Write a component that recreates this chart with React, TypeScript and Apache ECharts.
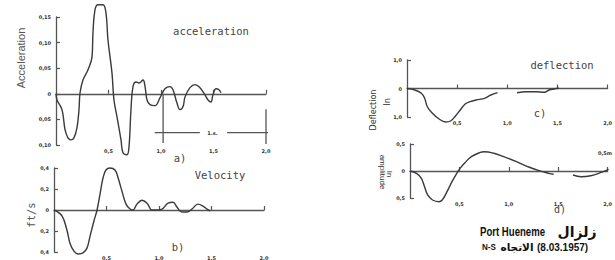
import React, { useEffect, useRef } from "react";
import * as echarts from "echarts";

// Panel a) acceleration (g) vs time (s)
const accTime = [0, 0.01, 0.057, 0.086, 0.114, 0.143, 0.171, 0.2, 0.219, 0.229, 0.257, 0.305, 0.343, 0.352, 0.371, 0.4, 0.448, 0.476, 0.495, 0.533, 0.552, 0.581, 0.619, 0.638, 0.676, 0.695, 0.714, 0.733, 0.762, 0.79, 0.829, 0.848, 0.867, 0.895, 0.943, 0.99, 1.038, 1.086, 1.114, 1.152, 1.181, 1.21, 1.229, 1.276, 1.324, 1.371, 1.419, 1.448, 1.476, 1.495, 1.524, 1.552, 1.571];
const accValue = [0, -0.012, -0.031, -0.07, -0.086, -0.09, -0.086, -0.066, -0.031, 0.002, 0.027, 0.047, 0.072, 0.119, 0.164, 0.174, 0.174, 0.158, 0.105, 0.041, -0.012, -0.045, -0.09, -0.115, -0.119, -0.104, -0.031, 0.014, 0.023, 0.021, 0.027, 0.014, -0.012, -0.021, -0.023, -0.008, 0.01, 0.014, 0.008, -0.018, -0.031, -0.025, -0.006, 0.012, 0.018, 0.012, -0.002, -0.012, -0.016, -0.002, 0.01, 0.008, 0.002];

// Scale bar of panel a) (1 second between the two vertical bars)
const scaleBarTime = [1.02, 1.02, 1.5, 2.0, 2.0, 1.5, 0.94, 1.37, 1.5, 1.63, 2.09];
const scaleBarValue: (number | null)[] = [0, -0.096, null, -0.03, -0.098, null, -0.076, -0.076, null, -0.076, -0.076];
const scaleBarLabel = "1.s.";
const scaleBarLabelAt = [1.49, -0.076];

// Panel b) velocity (ft/s)
const velTime = [0, 0.076, 0.124, 0.152, 0.19, 0.229, 0.276, 0.314, 0.343, 0.381, 0.41, 0.438, 0.467, 0.495, 0.533, 0.581, 0.61, 0.648, 0.686, 0.724, 0.752, 0.79, 0.838, 0.886, 0.933, 0.98, 1.029, 1.086, 1.133, 1.171, 1.2, 1.229, 1.267, 1.314, 1.371, 1.419, 1.457, 1.486];
const velValue = [0, -0.056, -0.195, -0.316, -0.391, -0.419, -0.409, -0.363, -0.251, -0.102, 0, 0.149, 0.307, 0.381, 0.4, 0.381, 0.307, 0.177, 0.056, 0.009, 0, 0.056, 0.093, 0.065, 0, 0, 0.009, 0.065, 0.074, 0.028, -0.009, -0.019, -0.019, 0.009, 0.056, 0.037, 0.009, -0.009];

// Panel c) deflection (in)
const defTime = [0, 0.078, 0.143, 0.175, 0.204, 0.252, 0.32, 0.385, 0.434, 0.483, 0.531, 0.58, 0.628, 0.689, 0.774, 0.835, 0.903, 1.0, 1.097, 1.194, 1.291, 1.369, 1.417, 1.466, 1.515];
const defValue: (number | null)[] = [0, -0.053, -0.168, -0.333, -0.649, -0.86, -1.07, -1.175, -1.14, -0.965, -0.754, -0.544, -0.463, -0.404, -0.344, -0.228, -0.147, null, -0.147, -0.112, -0.112, -0.133, -0.053, -0.018, 0.007];

// Panel d) amplitude (in)
const ampTime = [0, 0.066, 0.115, 0.147, 0.179, 0.228, 0.294, 0.326, 0.375, 0.425, 0.474, 0.507, 0.556, 0.621, 0.703, 0.752, 0.85, 0.948, 1.078, 1.209, 1.307, 1.405, 1.454, 1.55, 1.65, 1.732, 1.83, 1.928, 2.01];
const ampValue: (number | null)[] = [0, -0.043, -0.135, -0.291, -0.444, -0.537, -0.569, -0.537, -0.383, -0.198, -0.043, 0.05, 0.154, 0.265, 0.339, 0.357, 0.328, 0.265, 0.172, 0.069, 0.006, -0.043, -0.061, null, -0.074, -0.106, -0.087, -0.031, 0.031];

const xTicks = { min: 0, max: 2, interval: 0.5 };

const LINE = "#3a3a3a";
const AXIS = "#555";
const TXT = "#333";

function pairs(t: number[], v: (number | null)[]) {
  return t.map((x, i) => (v[i] === null ? [x, "-"] : [x, v[i]]));
}

function fmt(digits: number) {
  return (v: number) => {
    if (Math.abs(v) < 1e-9) return "0";
    return Math.abs(v).toFixed(digits).replace(".", ",");
  };
}

const tickLabel = { fontSize: 5, fontWeight: "bold" as const, color: TXT, fontFamily: "DejaVu Sans" };

function xAxis(gridIndex: number) {
  return {
    type: "value",
    gridIndex,
    ...xTicks,
    axisLine: { onZero: true, lineStyle: { color: AXIS, width: 1.3 } },
    axisTick: { show: true, inside: true, length: 4, lineStyle: { color: AXIS, width: 1.2 } },
    axisLabel: {
      ...tickLabel,
      margin: 3,
      showMinLabel: false,
      formatter: (v: number) => v.toFixed(1).replace(".", ","),
    },
    splitLine: { show: false },
  };
}

function yAxis(gridIndex: number, min: number, max: number, interval: number, digits: number) {
  return {
    type: "value",
    gridIndex,
    min,
    max,
    interval,
    axisLine: { show: true, onZero: false, lineStyle: { color: AXIS, width: 1.3 } },
    axisTick: { show: true, inside: true, length: 4, lineStyle: { color: AXIS, width: 1.2 } },
    axisLabel: { ...tickLabel, margin: 5, formatter: fmt(digits) },
    splitLine: { show: false },
  };
}

function series(i: number, data: any[], extra: any = {}) {
  return {
    type: "line",
    xAxisIndex: i,
    yAxisIndex: i,
    data,
    smooth: 0.4,
    showSymbol: false,
    symbol: "none",
    clip: false,
    connectNulls: false,
    lineStyle: { color: LINE, width: 1.4 },
    silent: true,
    ...extra,
  };
}

const mono = "10.5px 'DejaVu Sans Mono'";

function txt(text: string, x: number, y: number, font: string, extra: any = {}) {
  const { align, fill, ...rest } = extra;
  return {
    type: "text",
    x,
    y,
    silent: true,
    ...rest,
    style: {
      text,
      font,
      fill: fill || TXT,
      textAlign: align || "center",
      textVerticalAlign: "middle",
      align: align || "center",
      verticalAlign: "middle",
    },
  };
}

export default function App() {
  const ref = useRef<HTMLDivElement>(null);
  useEffect(() => {
    if (!ref.current) return;
    const chart = echarts.init(ref.current, null, { renderer: "svg" });
    chart.setOption({
      animation: false,
      backgroundColor: "#ffffff",
      grid: [
        { left: 56, top: 17, width: 210, height: 128 },
        { left: 54, top: 168, width: 210, height: 86 },
        { left: 407, top: 60, width: 206, height: 57 },
        { left: 410, top: 144, width: 204, height: 54 },
      ],
      xAxis: [xAxis(0), xAxis(1), xAxis(2), xAxis(3)],
      yAxis: [
        yAxis(0, -0.1, 0.15, 0.05, 2),
        yAxis(1, -0.4, 0.4, 0.2, 1),
        yAxis(2, -1, 1, 1, 1),
        yAxis(3, -0.5, 0.5, 0.5, 1),
      ],
      series: [
        series(0, pairs(accTime, accValue)),
        series(0, pairs(scaleBarTime, scaleBarValue), {
          smooth: false,
          lineStyle: { color: AXIS, width: 1.3 },
          markPoint: {
            silent: true,
            symbol: "circle",
            symbolSize: 1,
            itemStyle: { color: "rgba(0,0,0,0)" },
            label: { show: true, position: "inside", formatter: scaleBarLabel, ...tickLabel },
            data: [{ coord: scaleBarLabelAt }],
          },
        }),
        series(1, pairs(velTime, velValue)),
        series(2, pairs(defTime, defValue)),
        series(3, pairs(ampTime, ampValue)),
      ],
      graphic: [
        txt("acceleration", 211, 31, mono, { fill: "#444" }),
        txt("a)", 180, 158, mono, { fill: "#444" }),
        txt("Velocity", 220, 175, mono, { fill: "#444" }),
        txt("b)", 178, 247, mono, { fill: "#444" }),
        txt("deflection", 562, 65, mono, { fill: "#444" }),
        txt("c)", 540, 113, mono, { fill: "#444" }),
        txt("d)", 560, 209, "10px 'DejaVu Sans Mono'", { fill: "#444" }),
        txt("Acceleration", 21, 58, "11px 'Liberation Sans'", { rotation: Math.PI / 2, fill: "#555" }),
        txt("ft/s", 31, 215, mono, { rotation: Math.PI / 2, fill: "#555" }),
        txt("Deflection", 373, 110, "8px 'DejaVu Sans'", { rotation: Math.PI / 2 }),
        txt("In", 387, 102, "8px 'DejaVu Sans'", { rotation: Math.PI / 2 }),
        txt("amplitude", 382, 172, "8px 'Liberation Sans'", { rotation: -Math.PI / 2 }),
        txt("In", 389, 174, "8px 'Liberation Sans'", { rotation: -Math.PI / 2 }),
        txt("0,5m", 605, 153, "bold 5px 'DejaVu Sans'"),
        txt("Port Hueneme", 480, 232, "bold 12px 'Liberation Sans'", { align: "left", fill: "#111", scaleX: 0.8 }),
        txt("زلزال", 577, 232, "bold 14px 'DejaVu Sans'", { fill: "#111" }),
        txt("N-S", 482, 247, "bold 9.5px 'Liberation Sans'", { align: "left", fill: "#111", scaleX: 0.85 }),
        txt("الاتجاه", 517, 247, "bold 10.5px 'DejaVu Sans'", { fill: "#111" }),
        txt("(8.03.1957)", 537, 247, "bold 10px 'Liberation Sans'", { align: "left", fill: "#111" }),
      ],
    });
    return () => chart.dispose();
  }, []);
  return (
    <div
      ref={ref}
      style={{ position: "fixed", left: 0, top: 0, width: 615, height: 260, background: "#fff" }}
    />
  );
}
